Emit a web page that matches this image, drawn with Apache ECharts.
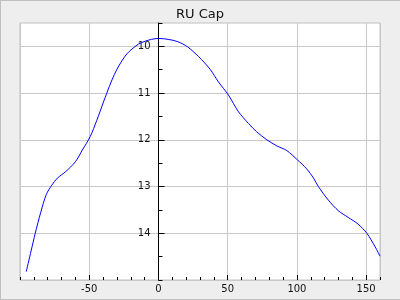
<!DOCTYPE html>
<html>
<head>
<meta charset="utf-8">
<script src="https://cdn.jsdelivr.net/npm/echarts@6/dist/echarts.min.js"></script>
<style>
html,body{margin:0;padding:0;background:#eeeeee;}
#c{width:400px;height:300px;}
</style>
</head>
<body>
<div id="c"></div>
<script>
const titleText = "RU Cap";
const xValues = [-95.5, -92, -89, -85, -81, -77, -73, -67, -60, -55, -49.3, -44.5, -39.7, -37.3, -33.6, -30, -26.4, -22.8, -19.2, -14.4, -9.6, -5, 0, 7, 14, 21, 29, 37.3, 43.3, 50.5, 57.8, 65, 71, 78.3, 85.5, 92.7, 100.4, 107, 112, 115.5, 122.7, 130, 137, 144, 150.5, 156.5, 160];
const yValues = [14.82, 14.38, 14.0, 13.55, 13.17, 12.97, 12.82, 12.68, 12.47, 12.22, 11.93, 11.58, 11.19, 11.0, 10.72, 10.49, 10.31, 10.16, 10.06, 9.95, 9.89, 9.85, 9.83, 9.85, 9.9, 10.01, 10.22, 10.49, 10.76, 11.04, 11.40, 11.65, 11.83, 12.0, 12.13, 12.23, 12.43, 12.62, 12.82, 13.0, 13.29, 13.52, 13.66, 13.8, 14.0, 14.29, 14.49];
const yTickLabels = [10, 11, 12, 13, 14];
const xTickLabels = [-50, 0, 50, 100, 150];

const chart = echarts.init(document.getElementById('c'), null, {renderer: 'canvas'});
const font = 'DejaVu Sans';
const gridCol = '#c8c8c8';
const data = xValues.map((x, i) => [x, yValues[i]]);

chart.setOption({
  backgroundColor: '#eeeeee',
  animation: false,
  title: {
    text: titleText, left: 'center', top: 3,
    textStyle: {fontFamily: font, fontSize: 13, fontWeight: 'normal', color: '#111'}
  },
  grid: {
    left: 20, right: 20, top: 23, bottom: 20, show: true, containLabel: false, outerBoundsMode: 'none',
    backgroundColor: '#ffffff', borderColor: '#c0c0c0', borderWidth: 1
  },
  graphic: [
    {type: 'line', shape: {x1: 0.5, y1: 0, x2: 0.5, y2: 300}, style: {stroke: '#c0c0c0', lineWidth: 1}},
    {type: 'line', shape: {x1: 0, y1: 0.5, x2: 400, y2: 0.5}, style: {stroke: '#c0c0c0', lineWidth: 1}},
    {type: 'line', shape: {x1: 0, y1: 299.5, x2: 400, y2: 299.5}, style: {stroke: '#c0c0c0', lineWidth: 1}}
  ],
  xAxis: [
    {
      type: 'value', min: -100, max: 160, interval: 10, position: 'bottom',
      axisLine: {show: false},
      axisTick: {show: true, inside: true, length: 3, lineStyle: {color: '#000'}},
      axisLabel: {show: false},
      splitLine: {show: false}
    },
    {
      type: 'value', min: -100, max: 160, interval: 50, position: 'bottom',
      axisLine: {show: false},
      axisTick: {show: true, inside: true, length: 5, lineStyle: {color: '#000'}},
      axisLabel: {
        show: true, margin: 4, fontFamily: font, fontSize: 10, color: '#111',
        showMinLabel: false, showMaxLabel: false,
        formatter: v => (xTickLabels.indexOf(v) >= 0 ? String(v) : '')
      },
      splitLine: {show: true, lineStyle: {color: gridCol, width: 1}}
    }
  ],
  yAxis: [
    {
      type: 'value', inverse: true, min: 9.5, max: 15, interval: 0.5,
      axisLine: {show: true, onZero: true, lineStyle: {color: '#000', width: 1}},
      axisTick: {show: true, inside: true, length: 4, lineStyle: {color: '#000'}},
      axisLabel: {show: false},
      splitLine: {show: true, lineStyle: {color: ['rgba(0,0,0,0)', gridCol], width: 1}}
    },
    {
      type: 'value', inverse: true, min: 9.5, max: 15, position: 'left', offset: -138.5,
      axisLine: {show: false, onZero: false},
      axisTick: {show: true, inside: true, length: 6, customValues: yTickLabels, lineStyle: {color: '#000'}},
      axisLabel: {show: true, inside: false, margin: 8, fontFamily: font, fontSize: 10, color: '#111', customValues: yTickLabels},
      splitLine: {show: false}
    }
  ],
  series: [{
    type: 'line', xAxisIndex: 0, yAxisIndex: 0, data: data,
    smooth: 0.3, showSymbol: false, symbol: 'none',
    lineStyle: {color: '#0000ff', width: 1}
  }]
});
</script>
</body>
</html>
